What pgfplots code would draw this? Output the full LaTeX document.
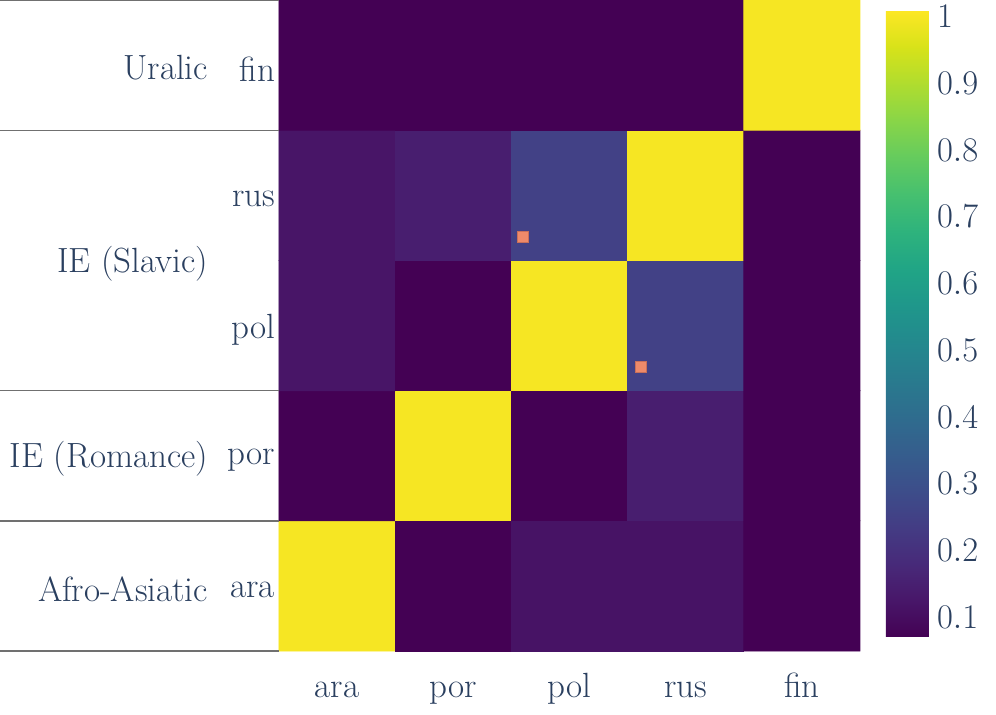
\documentclass[border=0pt]{standalone}
\usepackage{pgfplots}
\pgfplotsset{compat=1.18}
\usepackage{fontspec}
\definecolor{txt}{HTML}{2A3F5F}
\definecolor{mk}{HTML}{EE8A6A}
\definecolor{mkb}{HTML}{C8705A}
\definecolor{sep}{HTML}{707070}
\newcommand{\lbl}{\fontsize{17.5}{21}\selectfont}
\begin{document}
\begin{tikzpicture}
\useasboundingbox (-139.5pt,-31.5pt) rectangle (358.5pt,325.5pt);
\begin{axis}[
  at={(0,0)}, anchor=south west,
  scale only axis, width=290.5pt, height=325.5pt,
  xmin=-0.5, xmax=4.5, ymin=-0.5, ymax=4.5,
  axis line style={draw=none},
  major tick length=0pt,
  xtick={0,1,2,3,4}, xticklabels={ara,por,pol,rus,fin},
  ytick={0,1,2,3,4}, yticklabels={ara,por,pol,rus,fin},
  ticklabel style={font=\lbl, text=txt},
  xticklabel style={anchor=base, yshift=-23pt},
  yticklabel style={xshift=1.5pt, yshift=-2pt},
  clip=false,
  colormap/viridis,
  point meta min=0.07, point meta max=1.01,
  colorbar,
  colorbar/width=21.5pt,
  colorbar shift/.style={},
  colorbar style={
    at={(parent axis.north east)}, anchor=north west,
    xshift=13pt, yshift=-5pt,
    height=313.5pt,
    axis line style={draw=none},
    major tick length=0pt,
    ytick={0.1,0.2,0.3,0.4,0.5,0.6,0.7,0.8,0.9,1},
    yticklabel style={font=\lbl, text=txt, anchor=west, xshift=0.5pt},
  },
]
\addplot[matrix plot*, mesh/cols=5, point meta=explicit] table[meta=c] {
x y c
0 0 1
1 0 0.07
2 0 0.115
3 0 0.115
4 0 0.07
0 1 0.07
1 1 1
2 1 0.07
3 1 0.145
4 1 0.07
0 2 0.12
1 2 0.07
2 2 1
3 2 0.25
4 2 0.07
0 3 0.12
1 3 0.145
2 3 0.25
3 3 1
4 3 0.07
0 4 0.07
1 4 0.07
2 4 0.07
3 4 0.07
4 4 1
};
\addplot[only marks, mark=square*, mark size=2.75pt,
  mark options={fill=mk, draw=mkb, line width=0.3pt}] coordinates {
(1.6,2.68) (2.61,1.68)
};
\draw[sep, line width=0.7pt] (axis cs:-0.5,-0.5) -- ++(-139.5pt,0pt);
\draw[sep, line width=0.7pt] (axis cs:-0.5,0.5) -- ++(-139.5pt,0pt);
\draw[sep, line width=0.7pt] (axis cs:-0.5,1.5) -- ++(-139.5pt,0pt);
\draw[sep, line width=0.7pt] (axis cs:-0.5,3.5) -- ++(-139.5pt,0pt);
\draw[sep, line width=0.7pt] (axis cs:-0.5,4.5) -- ++(-139.5pt,0pt);
\node[anchor=east, font=\lbl, text=txt] at ([xshift=-32pt,yshift=-1.5pt]axis cs:-0.5,4) {Uralic};
\node[anchor=east, font=\lbl, text=txt] at ([xshift=-32pt,yshift=-1.5pt]axis cs:-0.5,2.5) {IE (Slavic)};
\node[anchor=east, font=\lbl, text=txt] at ([xshift=-32pt,yshift=-1.5pt]axis cs:-0.5,1) {IE (Romance)};
\node[anchor=east, font=\lbl, text=txt] at ([xshift=-32pt,yshift=-1.5pt]axis cs:-0.5,0) {Afro-Asiatic};
\end{axis}
\end{tikzpicture}
\end{document}
